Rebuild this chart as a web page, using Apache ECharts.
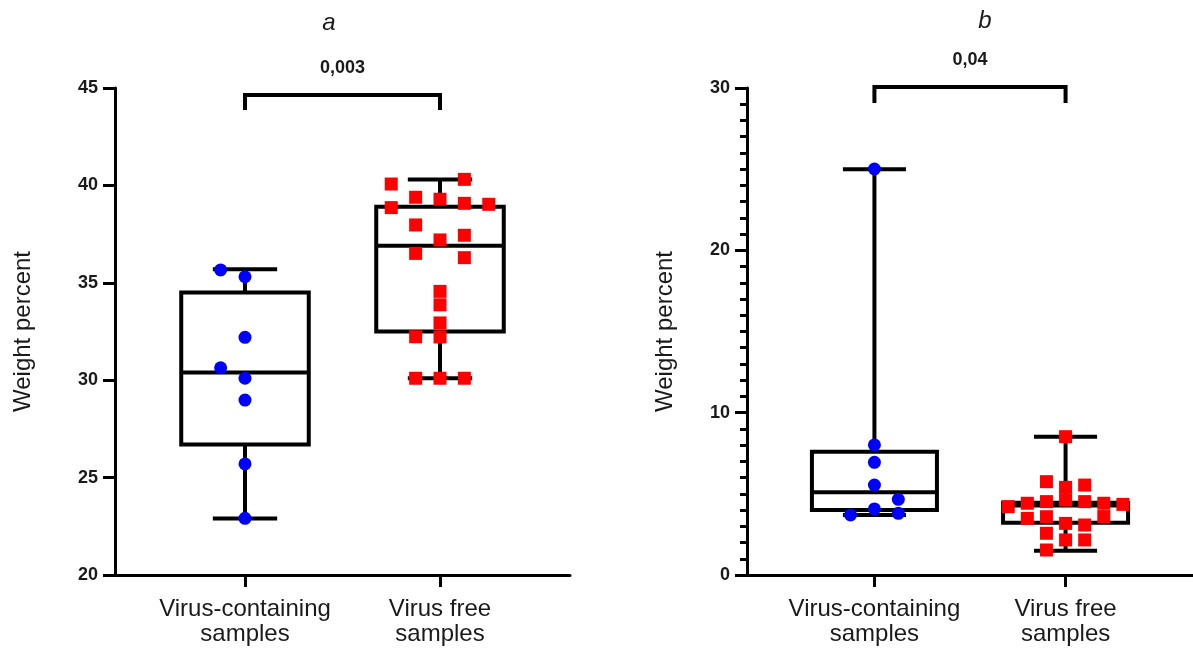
<!DOCTYPE html>
<html>
<head>
<meta charset="utf-8">
<script src="https://cdn.jsdelivr.net/npm/echarts@6/dist/echarts.min.js"></script>
<style>html,body{margin:0;padding:0;background:#fff}#c{width:1193px;height:650px}</style>
</head>
<body>
<div id="c"></div>
<script>
// ---------- data ----------
const categories = ['Virus-containing\nsamples', 'Virus free\nsamples'];
const panelTitles = ['a', 'b'];
const yAxisName = 'Weight percent';
const pValues = ['0,003', '0,04'];
const bracketTop = [44.64, 30.06];
const bracketLeg = [43.87, 29.08];

// panel a
const aYTicks = [20, 45, 5];
const aVirusValues = [35.66, 35.31, 32.20, 30.64, 30.10, 28.98, 25.70, 22.91];
const aVirusJitter = [-0.125, 0, 0, -0.125, 0, 0, 0, 0];
const aFreeValues = [40.07, 40.31, 39.39, 39.29, 38.86, 39.08, 39.03, 37.97, 37.20, 37.44,
                     36.51, 36.29, 34.56, 33.87, 32.94, 32.22, 32.23, 30.10, 30.10, 30.10];
const aFreeJitter = [-0.25, 0.125, -0.125, 0, -0.25, 0.125, 0.25, -0.125, 0, 0.125,
                     -0.125, 0.125, 0, 0, 0, 0, -0.125, -0.125, 0, 0.125];
// [min, Q1, median, Q3, max]
const aVirusBox = [22.9, 26.7, 30.4, 34.5, 35.7];
const aFreeBox = [30.1, 32.5, 36.9, 38.9, 40.3];

// panel b
const bYTicks = [0, 30, 10];
const bVirusValues = [25.01, 8.01, 6.94, 5.54, 4.66, 4.07, 3.70, 3.80];
const bVirusJitter = [0, 0, 0, 0, 0.125, 0, -0.125, 0.125];
const bFreeValues = [5.75, 4.52, 3.59, 2.57, 1.54,
                     8.52, 5.40, 4.62, 3.18, 2.16,
                     5.54, 4.52, 3.08, 2.16,
                     4.42, 3.49,
                     4.42, 3.60,
                     4.21,
                     4.35];
const bFreeJitter = [-0.1, -0.1, -0.1, -0.1, -0.1,
                     0, 0, 0, 0, 0,
                     0.1, 0.1, 0.1, 0.1,
                     -0.2, -0.2,
                     0.2, 0.2,
                     -0.3,
                     0.3];
const bVirusBox = [3.7, 4.0, 5.1, 7.6, 25.0];
const bFreeBox = [1.5, 3.22, 4.28, 4.45, 8.52];

// ---------- chart ----------
const chart = echarts.init(document.getElementById('c'));
const FONT = 'Liberation Sans, Arial, sans-serif';
const INK = '#000';
const TXT = '#1a1a1a';

function boxRender(params, api) {
  const x = api.value(0);
  const mn = api.value(1), q1 = api.value(2), md = api.value(3), q3 = api.value(4), mx = api.value(5);
  const hb = 0.327, hc = 0.165;
  const c = (xx, yy) => api.coord([xx, yy]);
  const pMax = c(x, mx), pQ3 = c(x, q3), pQ1 = c(x, q1), pMin = c(x, mn);
  const bl = c(x - hb, q3), br = c(x + hb, q1);
  const ml = c(x - hb, md), mr = c(x + hb, md);
  const cl = c(x - hc, mx), cr = c(x + hc, mx);
  const dl = c(x - hc, mn), dr = c(x + hc, mn);
  const st = { stroke: INK, lineWidth: 4, fill: null };
  return {
    type: 'group',
    children: [
      { type: 'line', shape: { x1: pMax[0], y1: pMax[1], x2: pQ3[0], y2: pQ3[1] }, style: st },
      { type: 'line', shape: { x1: pQ1[0], y1: pQ1[1], x2: pMin[0], y2: pMin[1] }, style: st },
      { type: 'line', shape: { x1: cl[0], y1: cl[1], x2: cr[0], y2: cr[1] }, style: st },
      { type: 'line', shape: { x1: dl[0], y1: dl[1], x2: dr[0], y2: dr[1] }, style: st },
      { type: 'rect', shape: { x: bl[0], y: bl[1], width: br[0] - bl[0], height: br[1] - bl[1] },
        style: { stroke: INK, lineWidth: 4, fill: 'transparent', lineJoin: 'miter' } },
      { type: 'line', shape: { x1: ml[0], y1: ml[1], x2: mr[0], y2: mr[1] }, style: st }
    ]
  };
}

function bracketRender(params, api) {
  const x0 = api.value(0), x1 = api.value(1), top = api.value(2), leg = api.value(3);
  const a = api.coord([x0, leg]), b = api.coord([x0, top]), cc = api.coord([x1, top]), d = api.coord([x1, leg]);
  const label = pValues[params.seriesIndex === 2 ? 0 : 1];
  return {
    type: 'group',
    children: [
      { type: 'polyline', shape: { points: [a, b, cc, d] },
        style: { stroke: INK, lineWidth: 4, fill: null, lineJoin: 'miter' } },
      { type: 'text', style: { text: label, x: (b[0] + cc[0]) / 2, y: b[1] - 27,
        font: 'bold 18px ' + FONT, fill: TXT, align: 'center', verticalAlign: 'middle' } }
    ]
  };
}

function makeX(gi) {
  return {
    type: 'value', gridIndex: gi, min: -2 / 3, max: 5 / 3,
    splitLine: { show: false },
    axisLine: { show: true, onZero: false, lineStyle: { color: INK, width: 3 } },
    axisTick: { show: true, customValues: [0, 1], length: 12, lineStyle: { color: INK, width: 3 } },
    axisLabel: { customValues: [0, 1], formatter: v => categories[Math.round(v)],
      fontFamily: FONT, fontSize: 24, lineHeight: 25, color: TXT, margin: 22 }
  };
}
function makeY(gi, t, minor, gap) {
  return {
    type: 'value', gridIndex: gi, min: t[0], max: t[1], interval: t[2],
    name: yAxisName, nameLocation: 'middle', nameGap: gap,
    nameTextStyle: { fontFamily: FONT, fontSize: 24, color: TXT },
    splitLine: { show: false },
    axisLine: { show: true, onZero: false, lineStyle: { color: INK, width: 3 } },
    axisTick: { show: true, length: 12, lineStyle: { color: INK, width: 3 } },
    minorTick: { show: minor, splitNumber: 10, length: 7, lineStyle: { color: INK, width: 3 } },
    axisLabel: { fontFamily: FONT, fontSize: 18, fontWeight: 'bold', color: TXT, margin: 17 }
  };
}

const pts = (vals, jit, cat) => vals.map((v, i) => [cat + jit[i], v]);

chart.setOption({
  animation: false,
  backgroundColor: '#fff',
  title: [
    { text: panelTitles[0], left: 324, top: 6, textAlign: 'center',
      textStyle: { fontFamily: FONT, fontSize: 24, fontStyle: 'italic', fontWeight: 'normal', color: TXT } },
    { text: panelTitles[1], left: 980, top: 4, textAlign: 'center',
      textStyle: { fontFamily: FONT, fontSize: 24, fontStyle: 'italic', fontWeight: 'normal', color: TXT } }
  ],
  grid: [
    { left: 115, top: 88, width: 455, bottom: 75 },
    { left: 747, top: 88, width: 453, bottom: 75 }
  ],
  xAxis: [makeX(0), makeX(1)],
  yAxis: [makeY(0, aYTicks, false, 80), makeY(1, bYTicks, true, 70)],
  series: [
    { type: 'custom', xAxisIndex: 0, yAxisIndex: 0, renderItem: boxRender, z: 2,
      data: [[0].concat(aVirusBox), [1].concat(aFreeBox)] },
    { type: 'custom', xAxisIndex: 1, yAxisIndex: 1, renderItem: boxRender, z: 2,
      data: [[0].concat(bVirusBox), [1].concat(bFreeBox)] },
    { type: 'custom', xAxisIndex: 0, yAxisIndex: 0, renderItem: bracketRender, z: 2,
      data: [[0, 1, bracketTop[0], bracketLeg[0]]] },
    { type: 'custom', xAxisIndex: 1, yAxisIndex: 1, renderItem: bracketRender, z: 2,
      data: [[0, 1, bracketTop[1], bracketLeg[1]]] },
    { type: 'scatter', xAxisIndex: 0, yAxisIndex: 0, symbol: 'circle', symbolSize: 13, z: 5,
      itemStyle: { color: '#0000ff', opacity: 1 }, data: pts(aVirusValues, aVirusJitter, 0) },
    { type: 'scatter', xAxisIndex: 0, yAxisIndex: 0, symbol: 'rect', symbolSize: 13, z: 5,
      itemStyle: { color: '#ff0000', opacity: 1 }, data: pts(aFreeValues, aFreeJitter, 1) },
    { type: 'scatter', xAxisIndex: 1, yAxisIndex: 1, symbol: 'circle', symbolSize: 13, z: 5,
      itemStyle: { color: '#0000ff', opacity: 1 }, data: pts(bVirusValues, bVirusJitter, 0) },
    { type: 'scatter', xAxisIndex: 1, yAxisIndex: 1, symbol: 'rect', symbolSize: 13, z: 5,
      itemStyle: { color: '#ff0000', opacity: 1 }, data: pts(bFreeValues, bFreeJitter, 1) }
  ]
});
</script>
</body>
</html>
